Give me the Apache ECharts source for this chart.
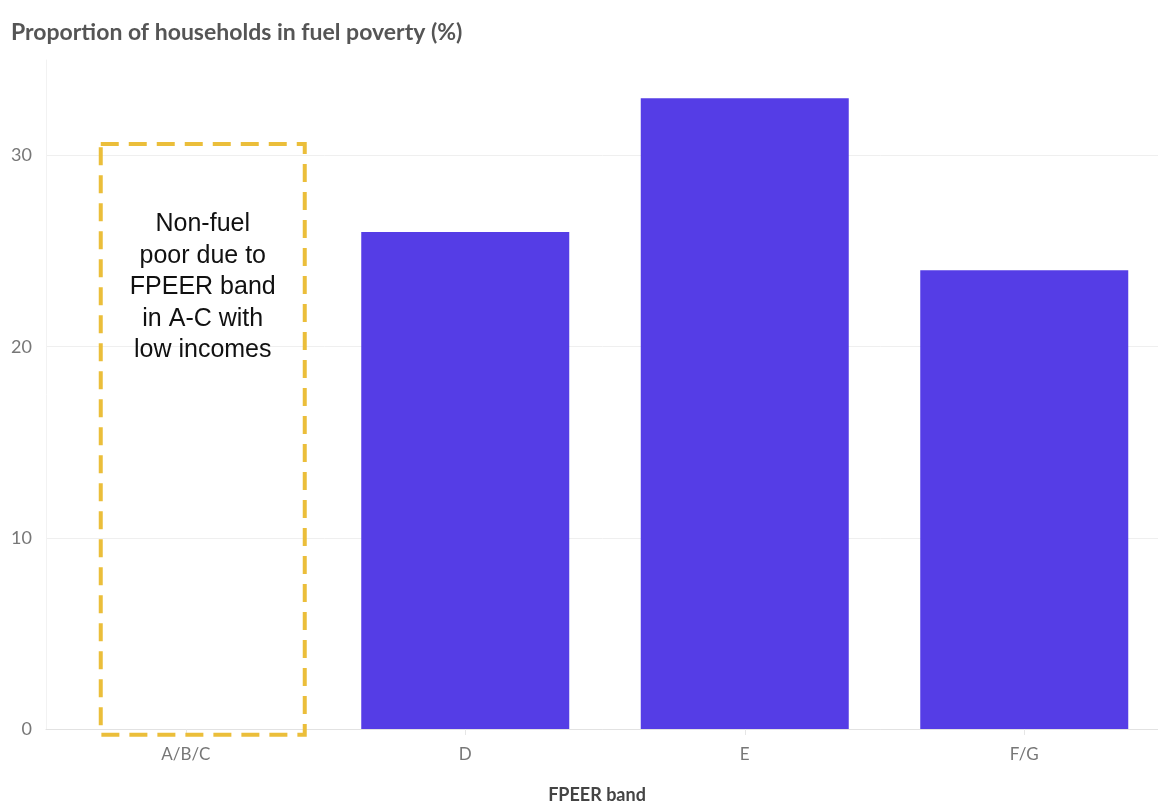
<!DOCTYPE html>
<html>
<head>
<meta charset="utf-8">
<script src="https://cdn.jsdelivr.net/npm/echarts@6/dist/echarts.min.js"></script>
<style>
  html, body { margin: 0; padding: 0; background: #fff; }
  #chart { width: 1158px; height: 809px; }
</style>
</head>
<body>
<div id="chart"></div>
<script>
// FPEER bands and the share of households in fuel poverty in each
const bands = ['A/B/C', 'D', 'E', 'F/G'];
const fuelPoorShare = [null, 26, 33, 24];
const yTicks = [0, 10, 20, 30];

// Note box over the A/B/C band: [band index, lower value, upper value, text centre value]
const noteBox = [[0, -0.3, 30.6, 23.1]];
const noteText = 'Non-fuel\npoor due to\nFPEER band\nin A-C with\nlow incomes';

const axisFont = 'Lato, "Noto Sans", sans-serif';

const chart = echarts.init(document.getElementById('chart'), null, { renderer: 'canvas' });

chart.setOption({
  animation: false,
  backgroundColor: '#ffffff',
  title: {
    text: 'Proportion of households in fuel poverty (%)',
    left: 6,
    top: 16,
    textStyle: { fontFamily: axisFont, fontWeight: 'bold', fontSize: 23, color: '#555555' }
  },
  grid: { left: 46, right: -6, top: 60, bottom: 80, outerBoundsMode: 'none', containLabel: false },
  xAxis: {
    type: 'category',
    data: bands,
    name: 'FPEER band',
    nameLocation: 'middle',
    nameGap: 57,
    nameTextStyle: { fontFamily: axisFont, fontWeight: 'bold', fontSize: 18, color: '#444444', padding: [0, 16, 0, 0] },
    axisLine: { show: true, lineStyle: { color: '#e2e2e2', width: 1 } },
    axisTick: { show: true, alignWithLabel: true, length: 6, lineStyle: { color: '#e6e6e6' } },
    axisLabel: { fontFamily: axisFont, fontSize: 17, color: '#777777', margin: 17 }
  },
  yAxis: {
    type: 'value',
    min: 0,
    max: 35,
    interval: 10,
    axisLine: { show: true, lineStyle: { color: '#f2f2f2', width: 1 } },
    axisTick: { show: false },
    axisLabel: {
      fontFamily: axisFont, fontSize: 18, color: '#777777', margin: 14,
      showMaxLabel: false,
      formatter: v => (yTicks.includes(v) ? String(v) : '')
    },
    splitLine: { show: true, showMaxLine: false, lineStyle: { color: '#efefef', width: 1 } }
  },
  series: [
    {
      type: 'bar',
      data: fuelPoorShare,
      barWidth: 208,
      itemStyle: { color: '#553DE6' },
      z: 2
    },
    {
      type: 'custom',
      data: noteBox,
      clip: false,
      z: 3,
      renderItem(params, api) {
        const top = api.coord([api.value(0), api.value(2)]);
        const bottom = api.coord([api.value(0), api.value(1)]);
        const mid = api.coord([api.value(0), api.value(3)]);
        const w = 204;
        const x = top[0] + 17 - w / 2;
        return {
          type: 'group',
          children: [
            {
              type: 'rect',
              shape: { x: x, y: top[1], width: w, height: bottom[1] - top[1] },
              style: { fill: 'none', stroke: '#EBBE3A', lineWidth: 4, lineDash: [18, 10] }
            },
            {
              type: 'text',
              style: {
                text: noteText,
                x: x + w / 2,
                y: mid[1],
                align: 'center',
                verticalAlign: 'middle',
                fontFamily: '"Liberation Sans", Arial, sans-serif',
                fontSize: 25,
                lineHeight: 31.5,
                fill: '#111111'
              }
            }
          ]
        };
      }
    }
  ]
});
</script>
</body>
</html>
